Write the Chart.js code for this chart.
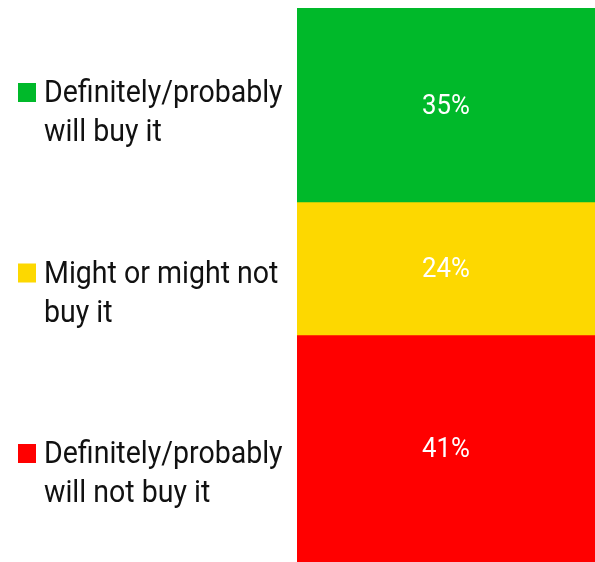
<!DOCTYPE html>
<html>
<head>
<meta charset="utf-8">
<script src="https://cdn.jsdelivr.net/npm/chart.js@4.4.1/dist/chart.umd.min.js"></script>
<style>
html,body{margin:0;padding:0;background:#fff;}
#wrap{width:595px;height:562px;position:relative;}
</style>
</head>
<body>
<div id="wrap"><canvas id="c" width="595" height="562"></canvas></div>
<script>
const categories = [''];
const seriesNames = [
  ['Definitely/probably', 'will buy it'],
  ['Might or might not', 'buy it'],
  ['Definitely/probably', 'will not buy it']
];
const seriesValues = [35, 24, 41];
const seriesColors = ['#00B92A', '#FDD800', '#FF0000'];
const valueLabels = ['35%', '24%', '41%'];

const FONT = 'Roboto, "Noto Sans", sans-serif';
const SX_LEGEND = 0.92;
const SX_VALUE = 0.92;

const sidePlugin = {
  id: 'side',
  afterDatasetsDraw(chart) {
    const ctx = chart.ctx;
    // value labels inside segments
    chart.data.datasets.forEach((ds, i) => {
      const el = chart.getDatasetMeta(i).data[0];
      const cy = (el.y + el.base) / 2 + 2;
      ctx.save();
      ctx.font = '28px ' + FONT;
      ctx.fillStyle = '#ffffff';
      ctx.textAlign = 'center';
      ctx.textBaseline = 'middle';
      ctx.translate(el.x, cy);
      ctx.scale(SX_VALUE, 1);
      ctx.fillText(valueLabels[i], 0, 0);
      ctx.restore();
    });
    // legend
    const firstBase = 102, step = 180.5, lineH = 39;
    chart.data.datasets.forEach((ds, i) => {
      const by = firstBase + i * step;
      ctx.save();
      ctx.fillStyle = ds.backgroundColor;
      ctx.fillRect(18, by - 19, 18, 19);
      ctx.fillStyle = '#111111';
      ctx.font = '31px ' + FONT;
      ctx.textAlign = 'left';
      ctx.textBaseline = 'alphabetic';
      const lines = Array.isArray(ds.label) ? ds.label : [ds.label];
      lines.forEach((t, k) => {
        ctx.save();
        ctx.translate(44, by + k * lineH);
        ctx.scale(SX_LEGEND, 1);
        ctx.fillText(t, 0, 0);
        ctx.restore();
      });
      ctx.restore();
    });
  }
};

new Chart(document.getElementById('c'), {
  type: 'bar',
  data: {
    labels: categories,
    datasets: seriesValues.map((v, i) => ({
      label: seriesNames[i],
      data: [v],
      backgroundColor: seriesColors[i],
      borderWidth: 0,
      barPercentage: 1,
      categoryPercentage: 1
    }))
  },
  options: {
    responsive: false,
    animation: false,
    layout: { padding: { left: 297, top: 8, right: 0, bottom: 0 } },
    plugins: { legend: { display: false }, tooltip: { enabled: false } },
    scales: {
      x: { stacked: true, display: false },
      y: { stacked: true, display: false, reverse: true, min: 0, max: 100 }
    }
  },
  plugins: [sidePlugin]
});
</script>
</body>
</html>
